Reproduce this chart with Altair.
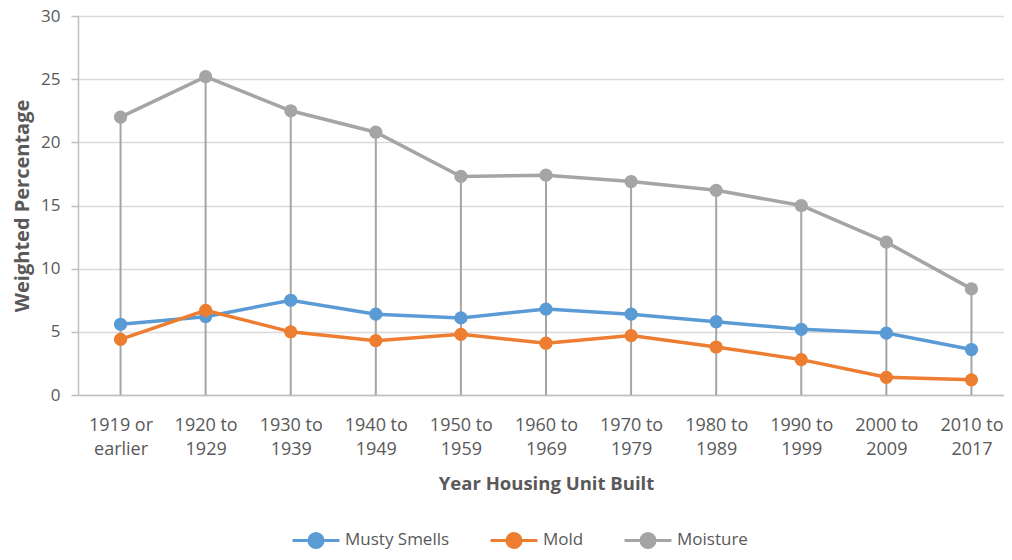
import altair as alt
import pandas as pd

categories = ["1919 or|earlier", "1920 to|1929", "1930 to|1939", "1940 to|1949",
              "1950 to|1959", "1960 to|1969", "1970 to|1979", "1980 to|1989",
              "1990 to|1999", "2000 to|2009", "2010 to|2017"]
musty = [5.6, 6.2, 7.5, 6.4, 6.1, 6.8, 6.4, 5.8, 5.2, 4.9, 3.6]
mold = [4.4, 6.7, 5.0, 4.3, 4.8, 4.1, 4.7, 3.8, 2.8, 1.4, 1.2]
moisture = [22.0, 25.2, 22.5, 20.8, 17.3, 17.4, 16.9, 16.2, 15.0, 12.1, 8.4]

series_names = ["Musty Smells", "Mold", "Moisture"]
series_colors = ["#5B9BD5", "#ED7D31", "#A5A5A5"]

rows = []
for name, vals in zip(series_names, [musty, mold, moisture]):
    for c, v in zip(categories, vals):
        rows.append({"period": c, "series": name, "value": v})
df = pd.DataFrame(rows)
drop_df = pd.DataFrame({"period": categories, "top": moisture, "base": [0] * len(categories)})

FONT = "Open Sans"
TXT = "#595959"

x_enc = alt.X("period:N", sort=categories,
              scale=alt.Scale(type="point", padding=0.5, range=[0, 936]),
              axis=alt.Axis(title="Year Housing Unit Built", labelExpr="split(datum.value, '|')",
                            labelAngle=0, labelFontSize=18, labelLineHeight=24, labelColor=TXT,
                            labelFont=FONT, labelPadding=21, ticks=False, domain=True,
                            domainColor="#BFBFBF", domainWidth=1.5, grid=False,
                            titleFontSize=18.5, titleFont=FONT, titleFontWeight="bold",
                            titleColor=TXT, titlePadding=16))

y_scale = alt.Scale(domain=[0, 30], nice=False)
y_axis = alt.Axis(title="Weighted Percentage", values=[0, 5, 10, 15, 20, 25, 30],
                  labelFontSize=17, labelColor=TXT, labelFont=FONT, labelPadding=11,
                  tickSize=7, tickColor="#BFBFBF", tickWidth=1.5,
                  domain=True, domainColor="#BFBFBF", domainWidth=1.5,
                  grid=True, gridColor="#D9D9D9", gridWidth=1.5,
                  titleFontSize=20, titleFont=FONT, titleFontWeight="bold",
                  titleColor=TXT, titlePadding=8)

drops = alt.Chart(drop_df).mark_rule(color="#A5A5A5", strokeWidth=2).encode(
    x=x_enc,
    y=alt.Y("top:Q", scale=y_scale, axis=y_axis),
    y2="base:Q",
)

color_scale = alt.Scale(domain=series_names, range=series_colors)

legend_path = "M-1,0L1,0M-0.3,0A0.3,0.3,0,1,0,0.3,0A0.3,0.3,0,1,0,-0.3,0Z"

def make_legend():
    return alt.Legend(title=None, orient="none", direction="horizontal",
                      legendX=213, legendY=499, symbolType=legend_path,
                      symbolSize=2200, symbolStrokeWidth=3,
                      labelFontSize=17, labelFont=FONT, labelColor=TXT,
                      columnPadding=34, labelOffset=4)

lines = alt.Chart(df).mark_line(strokeWidth=3.5).encode(
    x=x_enc,
    y=alt.Y("value:Q", scale=y_scale, axis=y_axis),
    color=alt.Color("series:N", scale=color_scale, sort=series_names, legend=make_legend()),
)

points = alt.Chart(df).mark_point(filled=True, size=175, opacity=1).encode(
    x=x_enc,
    y=alt.Y("value:Q", scale=y_scale, axis=y_axis),
    color=alt.Color("series:N", scale=color_scale, sort=series_names, legend=make_legend()),
)

chart = alt.layer(drops, lines, points).properties(
    width=926, height=379,
    autosize=alt.AutoSizeParams(type="none"),
    padding={"left": 70, "top": 8, "right": 0, "bottom": 157},
).configure_view(stroke=None).configure(background="white")

chart.save("out.html", embed_options={"renderer": "svg", "actions": False})
